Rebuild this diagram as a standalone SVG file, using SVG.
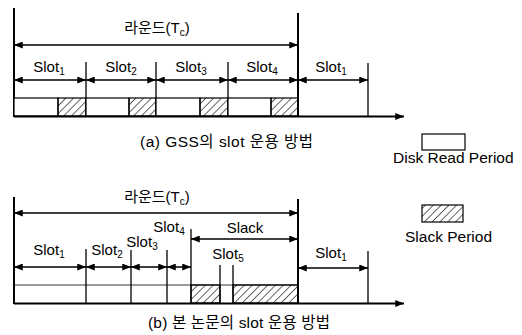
<svg xmlns="http://www.w3.org/2000/svg" width="522" height="335" viewBox="0 0 522 335">
<defs>
<marker id="ah" viewBox="0 0 10 8" refX="10" refY="4" markerWidth="9" markerHeight="7" markerUnits="userSpaceOnUse" orient="auto-start-reverse">
<path d="M0,0 L10,4 L0,8 z" fill="#000"/>
</marker>
<pattern id="hatch" patternUnits="userSpaceOnUse" width="5.5" height="5.5" patternTransform="rotate(45)">
<line x1="0" y1="0" x2="0" y2="5.5" stroke="#000" stroke-width="1.2"/>
</pattern>
<style>
text{font-family:"Liberation Sans","Noto Sans CJK KR",sans-serif;fill:#000}
.lbl{font-size:15px;text-anchor:middle}
.sub{font-size:10px}
.cap{font-size:15.5px}
.leg{font-size:15.5px}
.ln{stroke:#000;stroke-width:1.3;fill:none}
.bd{stroke:#000;stroke-width:2;fill:none}
.arr{stroke:#000;stroke-width:1.5;fill:none;marker-start:url(#ah);marker-end:url(#ah)}
.arr1{stroke:#000;stroke-width:2;fill:none;marker-end:url(#ah)}
.box{fill:#fff;stroke:#000;stroke-width:1.2}
.hb{fill:url(#hatch);stroke:#000;stroke-width:1.2}
</style>
</defs>

<g id="diagram-a">
<g id="a-frame">
<line class="bd" x1="14" y1="8" x2="14" y2="117"/>
<line class="bd" x1="298" y1="13" x2="298" y2="117"/>
<line class="ln" x1="86" y1="62" x2="86" y2="116"/>
<line class="ln" x1="156" y1="62" x2="156" y2="116"/>
<line class="ln" x1="228" y1="62" x2="228" y2="116"/>
<line class="ln" x1="368" y1="63" x2="368" y2="116"/>
</g>
<g id="a-strip">
<rect class="box" x="14" y="98" width="44" height="18"/>
<rect class="hb" x="58" y="98" width="28" height="18"/>
<rect class="box" x="86" y="98" width="43" height="18"/>
<rect class="hb" x="129" y="98" width="27" height="18"/>
<rect class="box" x="156" y="98" width="44" height="18"/>
<rect class="hb" x="200" y="98" width="28" height="18"/>
<rect class="box" x="228" y="98" width="43" height="18"/>
<rect class="hb" x="271" y="98" width="27" height="18"/>
</g>
<g id="a-connectors">
<line class="arr" x1="14" y1="45" x2="298" y2="45"/>
<line class="arr" x1="14" y1="80" x2="86" y2="80"/>
<line class="arr" x1="86" y1="80" x2="156" y2="80"/>
<line class="arr" x1="156" y1="80" x2="228" y2="80"/>
<line class="arr" x1="228" y1="80" x2="298" y2="80"/>
<line class="arr" x1="298" y1="80" x2="368" y2="80"/>
<line class="arr1" x1="14" y1="116.5" x2="404" y2="116.5"/>
</g>
<g id="a-labels">
<text class="lbl" x="157" y="33">라운드(T<tspan class="sub" dy="3">c</tspan><tspan dy="-3">)</tspan></text>
<text class="lbl" x="49" y="72">Slot<tspan class="sub" dy="3">1</tspan></text>
<text class="lbl" x="121" y="72">Slot<tspan class="sub" dy="3">2</tspan></text>
<text class="lbl" x="191" y="72">Slot<tspan class="sub" dy="3">3</tspan></text>
<text class="lbl" x="262" y="72">Slot<tspan class="sub" dy="3">4</tspan></text>
<text class="lbl" x="331" y="72">Slot<tspan class="sub" dy="3">1</tspan></text>
<text class="cap" x="140" y="147" textLength="173" lengthAdjust="spacing">(a) GSS의 slot 운용 방법</text>
</g>
</g>

<g id="legend">
<g id="legend-disk">
<rect class="box" x="422" y="134" width="43" height="16"/>
<text class="leg" x="393" y="163">Disk Read Period</text>
</g>
<g id="legend-slack">
<rect class="hb" x="422" y="205" width="41" height="17"/>
<text class="leg" x="405" y="242">Slack Period</text>
</g>
</g>

<g id="diagram-b">
<g id="b-frame">
<line class="bd" x1="14" y1="197" x2="14" y2="304"/>
<line class="bd" x1="298" y1="199" x2="298" y2="304"/>
<line class="ln" x1="86" y1="249" x2="86" y2="303"/>
<line class="ln" x1="131" y1="250" x2="131" y2="303"/>
<line class="ln" x1="167" y1="250" x2="167" y2="303"/>
<line class="ln" x1="191" y1="229" x2="191" y2="303"/>
<line class="ln" x1="220" y1="265" x2="220" y2="303"/>
<line class="ln" x1="233" y1="265" x2="233" y2="303"/>
<line class="ln" x1="368" y1="251" x2="368" y2="303"/>
</g>
<g id="b-strip">
<line stroke="#000" stroke-width="0.8" x1="14" y1="285" x2="298" y2="285"/>
<rect class="hb" x="191" y="285" width="29" height="18"/>
<rect class="hb" x="233" y="285" width="65" height="18"/>
</g>
<g id="b-connectors">
<line class="arr" x1="14" y1="213" x2="298" y2="213"/>
<line class="arr" x1="191" y1="239" x2="298" y2="239"/>
<line class="arr" x1="14" y1="267" x2="86" y2="267"/>
<line class="arr" x1="86" y1="267" x2="131" y2="267"/>
<line class="arr" x1="131" y1="267" x2="167" y2="267"/>
<line class="arr" x1="167" y1="267" x2="191" y2="267"/>
<line class="arr" x1="298" y1="268" x2="368" y2="268"/>
<line class="arr1" x1="14" y1="303.5" x2="404" y2="303.5"/>
</g>
<g id="b-labels">
<text class="lbl" x="157" y="202">라운드(T<tspan class="sub" dy="3">c</tspan><tspan dy="-3">)</tspan></text>
<text class="lbl" x="49" y="255">Slot<tspan class="sub" dy="3">1</tspan></text>
<text class="lbl" x="107" y="255">Slot<tspan class="sub" dy="3">2</tspan></text>
<text class="lbl" x="142" y="247">Slot<tspan class="sub" dy="3">3</tspan></text>
<text class="lbl" x="169" y="232">Slot<tspan class="sub" dy="3">4</tspan></text>
<text class="lbl" x="245" y="233">Slack</text>
<text class="lbl" x="228" y="259">Slot<tspan class="sub" dy="3">5</tspan></text>
<text class="lbl" x="331" y="258">Slot<tspan class="sub" dy="3">1</tspan></text>
<text class="cap" x="148" y="328" textLength="182" lengthAdjust="spacing">(b) 본 논문의 slot 운용 방법</text>
</g>
</g>
</svg>
